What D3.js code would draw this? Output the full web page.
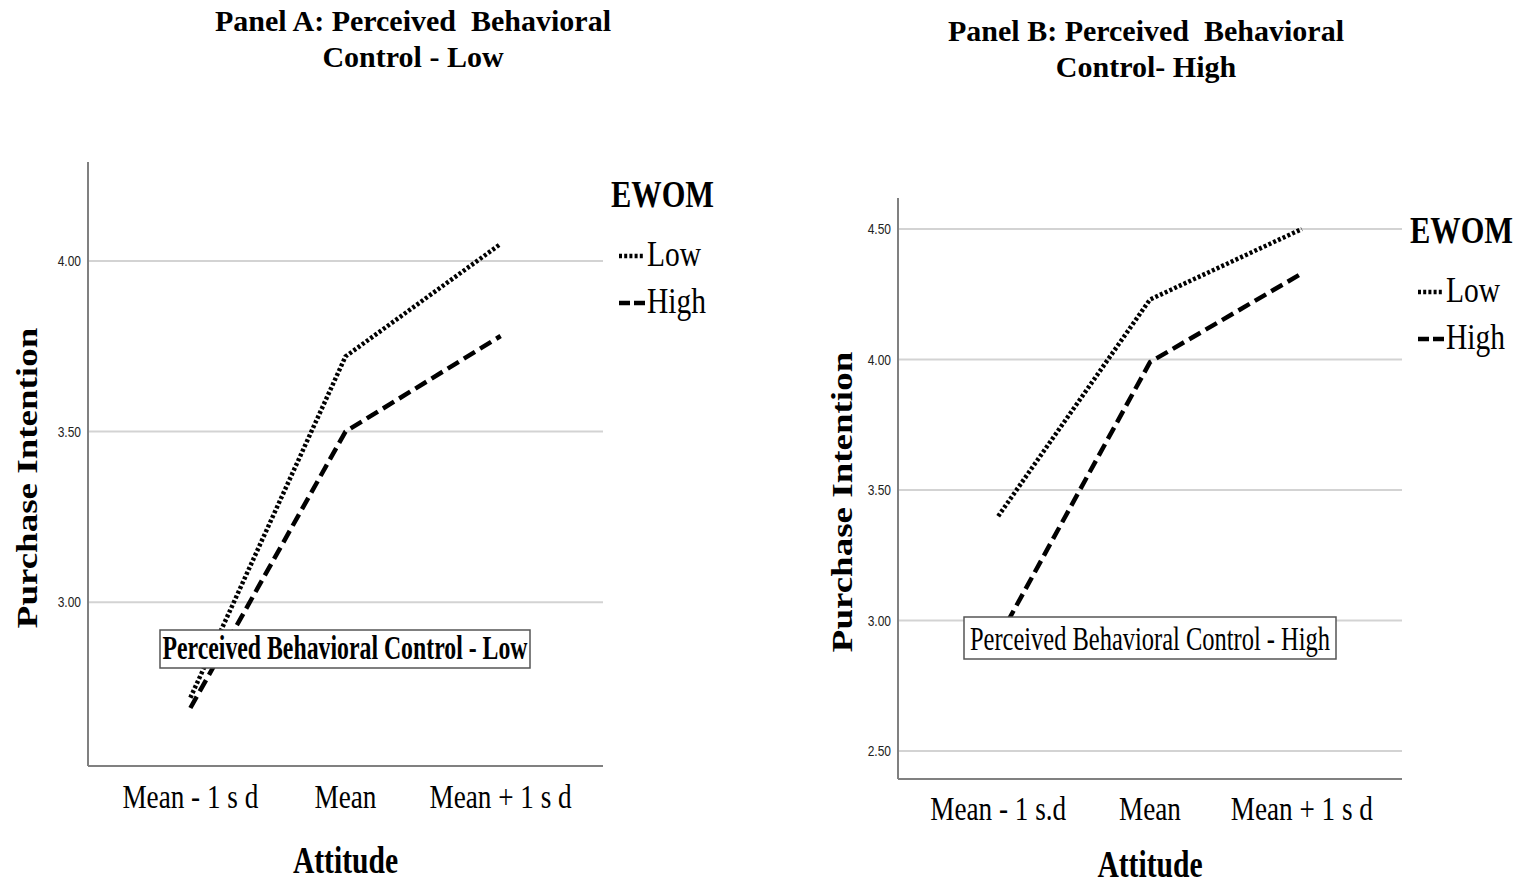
<!DOCTYPE html>
<html>
<head>
<meta charset="utf-8">
<script src="https://cdn.jsdelivr.net/npm/d3@7"></script>
<style>
  body { margin: 0; background: #fff; }
  svg { display: block; }
  text { white-space: pre; }
</style>
</head>
<body>
<svg width="1515" height="886"></svg>
<script>
var svg = d3.select("svg"),
    width = +svg.attr("width"),
    height = +svg.attr("height");

// data
var catsA = ["Mean - 1 s d", "Mean", "Mean + 1 s d"];
var catsB = ["Mean - 1 s.d", "Mean", "Mean + 1 s d"];
var lowA  = [2.72, 3.72, 4.05];
var highA = [2.69, 3.50, 3.78];
var lowB  = [3.40, 4.23, 4.50];
var highB = [2.93, 3.99, 4.33];
var ticksA = [3.00, 3.50, 4.00];
var ticksB = [2.50, 3.00, 3.50, 4.00, 4.50];
var seriesNames = ["Low", "High"];

var serif = "'Liberation Serif', 'Times New Roman', serif";
var dashes = { "Low": "3,2.2", "High": "13,6" };

// text squeezed sideways like the original picture
function squeezed(g, x, y, txt, opt) {
  var t = g.append("g")
      .attr("transform", "translate(" + x + "," + y + ")" +
            (opt.rotate ? " rotate(" + opt.rotate + ")" : "") +
            " scale(" + (opt.sx || 1) + "," + (opt.sy || 1) + ")")
    .append("text")
      .attr("text-anchor", opt.anchor || "start")
      .attr("font-family", opt.family || serif)
      .attr("font-size", opt.size)
      .attr("font-weight", opt.bold ? "bold" : "normal")
      .attr("fill", opt.fill || "#000")
      .text(txt);
  return t;
}

function panel(cfg) {
  var g = svg.append("g");

  var x = d3.scalePoint().domain(cfg.cats).range([cfg.x0, cfg.x1]).padding(0.66);
  var y = d3.scaleLinear().domain(cfg.yDomain).range([cfg.y1, cfg.y0]);

  // gridlines
  g.append("g").selectAll("line")
    .data(cfg.ticks)
    .enter().append("line")
      .attr("x1", cfg.x0).attr("x2", cfg.x1)
      .attr("y1", function(d) { return y(d); })
      .attr("y2", function(d) { return y(d); })
      .attr("stroke", "#d3d3d3")
      .attr("stroke-width", 2);

  // axes lines
  g.append("line")
      .attr("x1", cfg.x0).attr("x2", cfg.x0)
      .attr("y1", cfg.y0).attr("y2", cfg.y1)
      .attr("stroke", "#808080").attr("stroke-width", 2);
  g.append("line")
      .attr("x1", cfg.x0).attr("x2", cfg.x1)
      .attr("y1", cfg.y1).attr("y2", cfg.y1)
      .attr("stroke", "#808080").attr("stroke-width", 2);

  // y tick labels
  cfg.ticks.forEach(function(d) {
    squeezed(g, cfg.x0 - 7, y(d) + 5, d3.format(".2f")(d),
      { anchor: "end", family: "'Liberation Sans', Arial, sans-serif", size: 15, sx: 0.8, fill: "#222" });
  });

  // x tick labels
  cfg.cats.forEach(function(c) {
    squeezed(g, x(c), cfg.y1 + cfg.tickDy, c, { anchor: "middle", size: 34, sx: 0.8 });
  });

  // lines
  var line = d3.line()
      .x(function(d, i) { return x(cfg.cats[i]); })
      .y(function(d) { return y(d); });

  [cfg.low, cfg.high].forEach(function(vals, i) {
    g.append("path")
        .datum(vals)
        .attr("d", line)
        .attr("fill", "none")
        .attr("stroke", "#000")
        .attr("stroke-width", 4.5)
        .attr("stroke-dasharray", dashes[seriesNames[i]]);
  });

  // annotation box (drawn over the lines, as in the original)
  g.append("rect")
      .attr("x", cfg.box[0]).attr("y", cfg.box[1])
      .attr("width", cfg.box[2]).attr("height", cfg.box[3])
      .attr("fill", "#fff")
      .attr("stroke", "#555").attr("stroke-width", 1.5);
  squeezed(g, cfg.box[0] + cfg.box[2] / 2, cfg.box[1] + cfg.box[3] - 9, cfg.boxText,
    { anchor: "middle", size: 34, sx: cfg.boxBold ? 0.7 : 0.72, bold: cfg.boxBold });

  // axis titles
  squeezed(g, cfg.yLab[0], cfg.yLab[1], "Purchase Intention",
    { anchor: "middle", size: 37, bold: true, rotate: -90, sx: 1, sy: 0.8 });
  squeezed(g, (cfg.x0 + cfg.x1) / 2, cfg.xLabY, "Attitude",
    { anchor: "middle", size: 37, bold: true, sx: 0.8 });

  // panel title
  cfg.title.forEach(function(t, i) {
    squeezed(g, cfg.titleX, cfg.titleY + i * 36, t, { anchor: "middle", size: 30, bold: true });
  });

  // legend
  var lg = cfg.legend;
  squeezed(g, lg[0], lg[1], "EWOM", { size: 38, bold: true, sx: 0.8 });
  seriesNames.forEach(function(s, i) {
    var by = lg[1] + 59 + i * 47;
    g.append("line")
        .attr("x1", lg[0] + 8).attr("x2", lg[0] + 34)
        .attr("y1", by - 10).attr("y2", by - 10)
        .attr("stroke", "#000").attr("stroke-width", 4.5)
        .attr("stroke-dasharray", s === "Low" ? "3,2.2" : "11,4");
    squeezed(g, lg[0] + 36, by, s, { size: 36, sx: 0.82 });
  });
}

panel({
  cats: catsA, low: lowA, high: highA, ticks: ticksA,
  x0: 88, x1: 603, y0: 162, y1: 766,
  yDomain: [2.52, 4.29],
  tickDy: 42,
  box: [160, 630, 370, 38], boxText: "Perceived Behavioral Control - Low", boxBold: true,
  yLab: [37, 478], xLabY: 873,
  title: ["Panel A: Perceived  Behavioral", "Control - Low"], titleX: 413, titleY: 31,
  legend: [611, 207]
});

panel({
  cats: catsB, low: lowB, high: highB, ticks: ticksB,
  x0: 898, x1: 1402, y0: 198, y1: 779,
  yDomain: [2.393, 4.619],
  tickDy: 41,
  box: [964, 617, 372, 42], boxText: "Perceived Behavioral Control - High", boxBold: false,
  yLab: [852, 502], xLabY: 877,
  title: ["Panel B: Perceived  Behavioral", "Control- High"], titleX: 1146, titleY: 41,
  legend: [1410, 243]
});
</script>
</body>
</html>
